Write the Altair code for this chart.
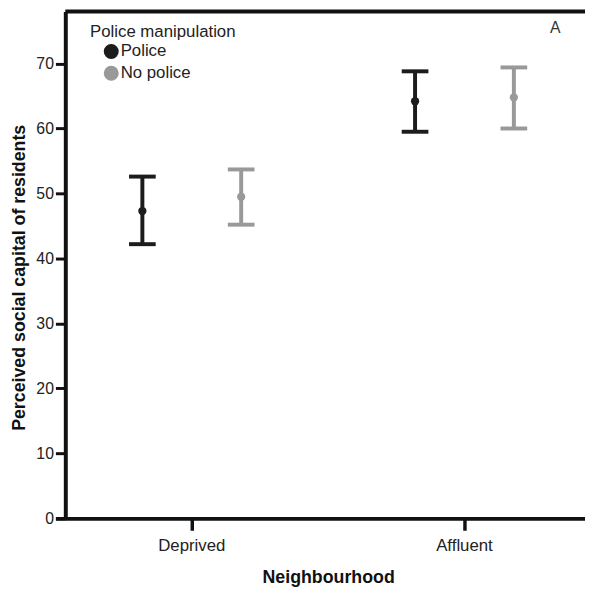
import altair as alt
import pandas as pd

# ---- data ----
neighbourhood = ["Deprived", "Deprived", "Affluent", "Affluent"]
group = ["Police", "No police", "Police", "No police"]
mean = [47.3, 49.5, 64.2, 64.8]
lower = [42.2, 45.2, 59.5, 60.0]
upper = [52.6, 53.7, 68.8, 69.4]

cat_order = ["Deprived", "Affluent"]
grp_order = ["Police", "No police"]
grp_colors = ["#1c1c1c", "#999999"]
y_ticks = [0, 10, 20, 30, 40, 50, 60, 70]

df = pd.DataFrame({
    "Neighbourhood": neighbourhood,
    "group": group,
    "mean": mean,
    "lower": lower,
    "upper": upper,
})

FONT = "Liberation Sans"

W, H = 526, 513

x_enc = alt.X(
    "Neighbourhood:N",
    sort=cat_order,
    scale=alt.Scale(range=[-10, 542], paddingInner=0, paddingOuter=0),
    axis=alt.Axis(
        title="Neighbourhood",
        labelAngle=0,
        labelFont=FONT,
        labelFontSize=17,
        labelColor="#222222",
        labelPadding=8,
        tickSize=12,
        tickWidth=3.5,
        tickColor="#111111",
        domainWidth=4,
        domainColor="#111111",
        titleFont=FONT,
        titleFontSize=18,
        titleFontWeight="bold",
        titleColor="#111111",
        titlePadding=15,
        grid=False,
    ),
)
xoff_enc = alt.XOffset(
    "group:N",
    sort=grp_order,
    scale=alt.Scale(paddingOuter=0.38, paddingInner=0),
)
y_scale = alt.Scale(domain=[0, 78], nice=False, zero=True)
color_enc = alt.Color(
    "group:N",
    sort=grp_order,
    scale=alt.Scale(domain=grp_order, range=grp_colors),
    legend=alt.Legend(
        title="Police manipulation",
        orient="none",
        legendX=25,
        legendY=13,
        padding=0,
        titleFont=FONT,
        titleFontSize=17,
        titleFontWeight="normal",
        titleColor="#222222",
        titlePadding=2,
        labelFont=FONT,
        labelFontSize=17,
        labelColor="#222222",
        labelOffset=1,
        symbolType="circle",
        symbolSize=230,
        symbolStrokeWidth=0,
        symbolOpacity=1,
        symbolOffset=13,
        rowPadding=4,
    ),
)

base = alt.Chart(df)

stems = base.mark_rule(strokeWidth=4).encode(
    x=x_enc,
    xOffset=xoff_enc,
    y=alt.Y(
        "lower:Q",
        scale=y_scale,
        axis=alt.Axis(
            title="Perceived social capital of residents",
            values=y_ticks,
            labelFont=FONT,
            labelFontSize=16,
            labelColor="#222222",
            labelPadding=2,
            tickSize=10,
            tickWidth=3,
            tickColor="#111111",
            domainWidth=4,
            domainColor="#111111",
            titleFont=FONT,
            titleFontSize=18,
            titleFontWeight="bold",
            titleColor="#111111",
            titlePadding=8,
            titleY=269,
            grid=False,
        ),
    ),
    y2="upper:Q",
    color=color_enc,
)

caps_lo = base.mark_tick(size=27, thickness=4, opacity=1).encode(
    x=x_enc, xOffset=xoff_enc, y=alt.Y("lower:Q", scale=y_scale), color=color_enc
)
caps_hi = base.mark_tick(size=27, thickness=4, opacity=1).encode(
    x=x_enc, xOffset=xoff_enc, y=alt.Y("upper:Q", scale=y_scale), color=color_enc
)
points = base.mark_point(filled=True, size=70, opacity=1, shape="circle").encode(
    x=x_enc, xOffset=xoff_enc, y=alt.Y("mean:Q", scale=y_scale), color=color_enc
)

top_border = alt.Chart(pd.DataFrame({"k": [0]})).mark_rule(
    color="#111111", strokeWidth=4
).encode(x=alt.value(0), x2=alt.value(W), y=alt.value(0))

panel = alt.Chart(pd.DataFrame({"label": ["A"]})).mark_text(
    font=FONT, fontSize=16, color="#333333", align="center", baseline="middle"
).encode(text="label:N", x=alt.value(496), y=alt.value(17))

chart = (
    alt.layer(stems, caps_lo, caps_hi, points, top_border, panel)
    .properties(
        width=W,
        height=H,
        autosize=alt.AutoSizeParams(type="none"),
        padding={"left": 58, "top": 0, "right": 0, "bottom": 78},
    )
    .configure_view(stroke=None)
)

chart.save("out.html", embed_options={"renderer": "svg", "actions": False})
